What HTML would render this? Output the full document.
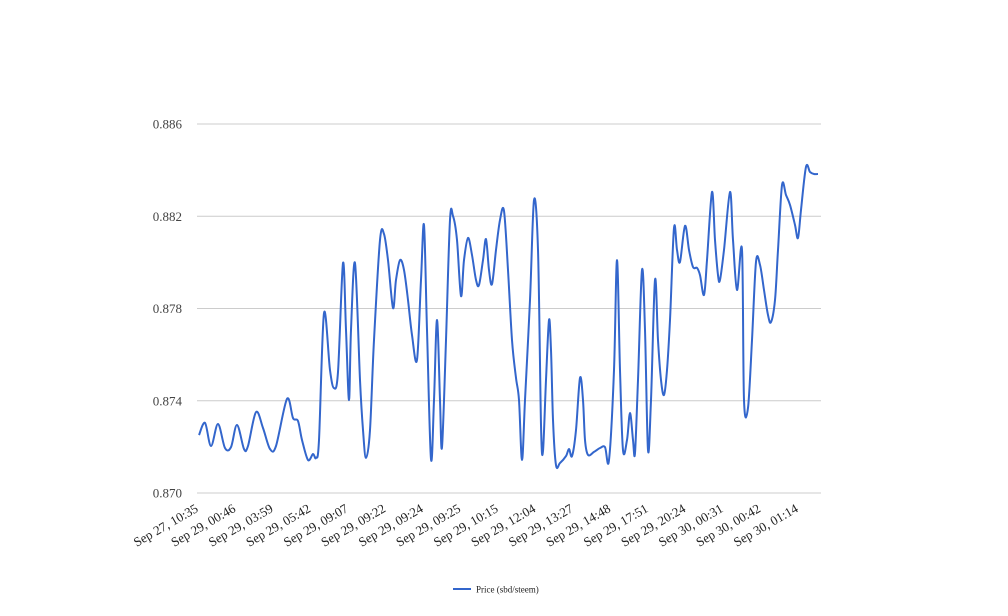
<!DOCTYPE html>
<html><head><meta charset="utf-8"><style>
html,body{margin:0;padding:0;background:#fff;}
svg{display:block;}
text{font-family:"Liberation Serif",serif;}
</style></head><body>
<svg id="chart" width="1008" height="616" viewBox="0 0 1008 616" xmlns="http://www.w3.org/2000/svg">
<g id="grid"></g>
<g id="yaxis"></g>
<g id="xaxis"></g>
<path id="line" fill="none" stroke="#3366cc" stroke-width="2"/>
<g>
<line x1="453" y1="589" x2="471" y2="589" stroke="#3366cc" stroke-width="2"/>
<text x="476" y="592.5" font-size="9" fill="#222">Price (sbd/steem)</text>
</g>
</svg>
<script>
const times=[0,6,12,19,26,32,38,45,49,57,64,71,77,88,94,99,103,109,114,117,120,125,131,135,139,144,147,150,152,156,161,164,167,171,175,181,185,189,194,197,201,205,209,213,218,222,225,228,232,235,238,241,243,247,251,254,258,262,265,269,273,277,280,284,287,290,293,297,301,305,309,313,317,320,323,326,331,335,339,342,344,347,350,352,354,357,361,367,370,373,377,381,384,386,389,395,401,406,410,415,418,421,424,428,431,434,436,439,443,446,449,452,456,459,462,465,468,471,475,478,481,486,490,494,498,501,505,508,513,516,519,521,525,531,534,538,543,545,549,553,557,561,565,569,572,576,579,583,587,591,596,599,602,607,611,615,619];
const prices=[.87251,.87304,.87204,.87299,.87195,.87199,.87295,.87191,.87204,.87351,.87282,.87191,.87204,.87408,.87325,.87312,.8723,.87143,.87169,.87152,.8723,.8778,.87533,.87455,.87525,.87997,.87707,.87403,.87707,.87997,.8749,.87273,.87152,.87273,.87663,.88097,.88123,.8801,.87802,.87924,.8801,.87967,.87837,.87685,.87577,.87924,.88162,.87707,.87147,.87403,.8775,.87403,.87199,.87663,.88184,.88201,.88097,.87854,.8801,.88106,.88032,.87924,.87902,.8801,.88101,.87967,.87906,.88054,.88184,.88223,.87967,.87663,.87499,.87403,.87143,.87403,.87837,.8827,.88054,.87295,.87182,.8749,.8775,.8762,.87317,.87121,.8713,.8716,.87191,.8716,.87273,.87499,.87403,.8723,.87165,.87178,.87195,.87199,.87143,.87533,.8801,.87533,.87186,.8723,.87347,.8723,.87173,.8749,.87967,.87707,.87186,.87403,.87924,.87663,.8749,.87425,.87533,.8775,.88149,.88054,.88002,.88158,.88054,.8798,.87976,.87945,.87859,.8801,.88305,.88097,.87945,.87924,.88054,.88305,.88097,.8788,.88054,.87403,.87369,.87663,.88002,.87989,.8788,.87772,.87741,.87837,.88054,.88335,.88292,.88249,.88162,.88106,.88227,.88414,.88392,.88383,.88383];
const yTicks=[0.870,0.874,0.878,0.882,0.886];
const xLabels=["Sep 27, 10:35","Sep 29, 00:46","Sep 29, 03:59","Sep 29, 05:42","Sep 29, 09:07","Sep 29, 09:22","Sep 29, 09:24","Sep 29, 09:25","Sep 29, 10:15","Sep 29, 12:04","Sep 29, 13:27","Sep 29, 14:48","Sep 29, 17:51","Sep 29, 20:24","Sep 30, 00:31","Sep 30, 00:42","Sep 30, 01:14"];
const xLabelTimes=[0,37.5,75,112.5,150,187.5,225,262.5,300,337.5,375,412.5,450,487.5,525,562.5,600];

const NS="http://www.w3.org/2000/svg";
const X0=199,X1=818,T0=0,T1=619,Y0=493,Y1=124,V0=0.870,V1=0.886;
function xs(t){return X0+(t-T0)/(T1-T0)*(X1-X0);}
function ys(v){return Y0+(v-V0)/(V1-V0)*(Y1-Y0);}

const grid=document.getElementById('grid'),ya=document.getElementById('yaxis'),xa=document.getElementById('xaxis');
yTicks.forEach(v=>{
  const l=document.createElementNS(NS,'line');
  
  
  l.setAttribute('x1',197);l.setAttribute('x2',821);
  l.setAttribute('y1',ys(v));l.setAttribute('y2',ys(v));
  l.setAttribute('stroke','#cccccc');l.setAttribute('stroke-width','1');
  grid.appendChild(l);
  const t=document.createElementNS(NS,'text');
  
  
  t.setAttribute('x',182);t.setAttribute('y',ys(v)+4.5);
  t.setAttribute('text-anchor','end');t.setAttribute('font-size','13');t.setAttribute('fill','#444');
  t.textContent=v.toFixed(3);
  ya.appendChild(t);
});
xLabels.forEach((s,i)=>{
  const x=xs(xLabelTimes[i]);
  const t=document.createElementNS(NS,'text');
  
  
  t.setAttribute('transform','translate('+x+',511) rotate(-30)');
  t.setAttribute('text-anchor','end');t.setAttribute('font-size','13');t.setAttribute('fill','#222');
  t.textContent=s;
  xa.appendChild(t);
});
const P=times.map((t,i)=>[xs(t),ys(prices[i])]);
let d='M'+P[0][0].toFixed(1)+','+P[0][1].toFixed(1);
for(let i=0;i<P.length-1;i++){
  const p0=P[Math.max(0,i-1)],p1=P[i],p2=P[i+1],p3=P[Math.min(P.length-1,i+2)];
  const k=1/6;
  const c1=[p1[0]+(p2[0]-p0[0])*k,p1[1]+(p2[1]-p0[1])*k];
  const c2=[p2[0]-(p3[0]-p1[0])*k,p2[1]-(p3[1]-p1[1])*k];
  d+='C'+c1[0].toFixed(1)+','+c1[1].toFixed(1)+' '+c2[0].toFixed(1)+','+c2[1].toFixed(1)+' '+p2[0].toFixed(1)+','+p2[1].toFixed(1);
}
document.getElementById('line').setAttribute('d',d);
</script>
</body></html>
